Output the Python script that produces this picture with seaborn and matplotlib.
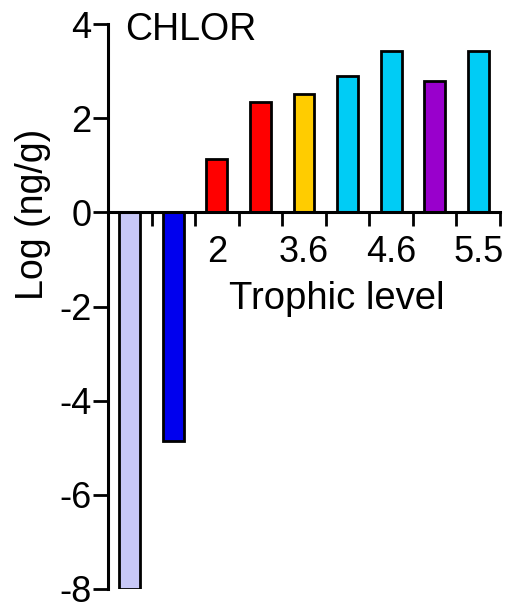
import matplotlib
matplotlib.use("Agg")
import matplotlib.pyplot as plt
import seaborn as sns
import pandas as pd
import numpy as np

# ---- data ----
categories = ["b1", "b2", "b3", "b4", "b5", "b6", "b7", "b8", "b9"]
values = [-8.0, -4.85, 1.13, 2.34, 2.52, 2.89, 3.42, 2.78, 3.42]
colors = ["#C8C8F8", "#0000EE", "#FF0000", "#FF0000", "#FFCC00",
          "#00CCF5", "#00CCF5", "#9900CC", "#00CCF5"]
tick_positions = [2, 4, 6, 8]
tick_labels = ["2", "3.6", "4.6", "5.5"]
y_ticks = [-8, -6, -4, -2, 0, 2, 4]

sns.set_theme(style="white")
plt.rcParams['font.family'] = ['Liberation Sans', 'DejaVu Sans']
plt.rcParams['text.color'] = 'black'
plt.rcParams['xtick.color'] = 'black'
plt.rcParams['ytick.color'] = 'black'

df = pd.DataFrame({"cat": categories, "val": values})

fig = plt.figure(figsize=(5.1, 6.09), dpi=100)
ax = fig.add_axes([108/510, 20/609, 392/510, 565/609])

sns.barplot(data=df, x="cat", y="val", hue="cat", order=categories,
            palette=dict(zip(categories, colors)), legend=False,
            width=0.48, edgecolor="black", linewidth=2.0, ax=ax,
            saturation=1)

ax.set_xlim(-0.5, 8.5)
ax.set_ylim(-8, 4)

# spines
for s in ["top", "right"]:
    ax.spines[s].set_visible(False)
ax.spines["bottom"].set_position(("data", 0))
ax.spines["bottom"].set_linewidth(2.2)
ax.spines["left"].set_linewidth(2.2)
ax.spines["bottom"].set_color("black")
ax.spines["left"].set_color("black")

ax.set_yticks(y_ticks)
ax.set_yticklabels([str(t) for t in y_ticks])
ax.tick_params(axis="y", which="major", direction="out", length=11, width=2,
               color="black", labelsize=26, labelcolor="black", pad=1, left=True)

ax.set_xticks(tick_positions)
ax.set_xticklabels(tick_labels)
ax.set_xticks(np.arange(0.5, 9.0, 1.0), minor=True)
ax.tick_params(axis="x", which="major", length=0, labelsize=26,
               labelcolor="black", pad=16)
ax.tick_params(axis="x", which="minor", direction="out", length=10, width=2,
               color="black", bottom=True)

ax.set_xlabel("")
ax.set_ylabel("")

fig.text(337/510, 1 - 299/609, "Trophic level", fontsize=27.5,
         ha="center", va="center", color="black")
fig.text(33/510, 1 - 214/609, "Log (ng/g)", fontsize=27,
         ha="center", va="center", rotation=90, color="black")
fig.text(125/510, 1 - 30/609, "CHLOR", fontsize=27,
         ha="left", va="center", color="black")

fig.savefig("out.png", dpi=100)
